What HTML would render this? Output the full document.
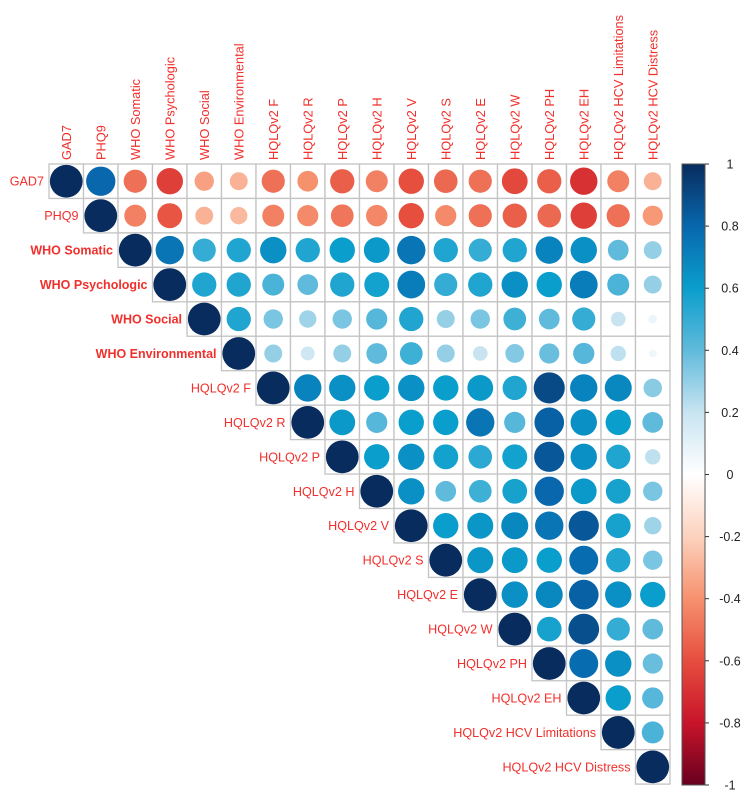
<!DOCTYPE html>
<html><head><meta charset="utf-8"><style>
body{margin:0;background:#fff;}
svg{display:block;font-family:"Liberation Sans",sans-serif;}
</style></head><body>
<svg id="chart" width="754" height="799" viewBox="0 0 754 799"></svg>
<script>
const labels = ["GAD7","PHQ9","WHO Somatic","WHO Psychologic","WHO Social","WHO Environmental","HQLQv2 F","HQLQv2 R","HQLQv2 P","HQLQv2 H","HQLQv2 V","HQLQv2 S","HQLQv2 E","HQLQv2 W","HQLQv2 PH","HQLQv2 EH","HQLQv2 HCV Limitations","HQLQv2 HCV Distress"];
// upper-triangle rows: values from diagonal to the right
const rowGAD7 = [1,0.8,-0.5,-0.65,-0.35,-0.3,-0.5,-0.4,-0.55,-0.45,-0.6,-0.52,-0.5,-0.62,-0.55,-0.7,-0.45,-0.3];
const rowPHQ9 = [1,-0.45,-0.58,-0.3,-0.28,-0.45,-0.42,-0.48,-0.43,-0.6,-0.42,-0.5,-0.55,-0.52,-0.65,-0.5,-0.38];
const rowWSom = [1,0.75,0.5,0.55,0.65,0.55,0.6,0.62,0.75,0.55,0.5,0.55,0.7,0.65,0.4,0.3];
const rowWPsy = [1,0.55,0.55,0.45,0.4,0.55,0.58,0.72,0.5,0.55,0.65,0.6,0.72,0.45,0.3];
const rowWSoc = [1,0.55,0.35,0.28,0.35,0.42,0.55,0.3,0.35,0.48,0.4,0.5,0.2,0.07];
const rowWEnv = [1,0.3,0.18,0.3,0.4,0.48,0.3,0.2,0.33,0.38,0.42,0.22,0.06];
const rowF = [1,0.7,0.65,0.6,0.65,0.6,0.62,0.55,0.9,0.7,0.68,0.32];
const rowR = [1,0.62,0.42,0.6,0.6,0.75,0.42,0.82,0.65,0.6,0.4];
const rowP = [1,0.6,0.65,0.58,0.52,0.58,0.85,0.65,0.55,0.22];
const rowH = [1,0.65,0.4,0.48,0.57,0.8,0.62,0.57,0.35];
const rowV = [1,0.6,0.63,0.68,0.75,0.85,0.57,0.28];
const rowS = [1,0.63,0.62,0.6,0.78,0.55,0.35];
const rowE = [1,0.65,0.68,0.82,0.65,0.6];
const rowW = [1,0.57,0.88,0.5,0.4];
const rowPH = [1,0.78,0.65,0.38];
const rowEH = [1,0.6,0.42];
const rowLim = [1,0.45];
const rowDis = [1];
const rows = [rowGAD7,rowPHQ9,rowWSom,rowWPsy,rowWSoc,rowWEnv,rowF,rowR,rowP,rowH,rowV,rowS,rowE,rowW,rowPH,rowEH,rowLim,rowDis];
const colorTicks = ["1","0.8","0.6","0.4","0.2","0","-0.2","-0.4","-0.6","-0.8","-1"];

const NS="http://www.w3.org/2000/svg";
const svg=document.getElementById('chart');
const X0=49, Y0=164, CW=34.5, CH=34.45, N=labels.length;
const xs=i=>X0+i*CW, ys=i=>Y0+i*CH;
const stops=[[-1,[103,0,31]],[-0.8,[200,20,42]],[-0.6,[230,78,62]],[-0.4,[246,145,110]],[-0.2,[252,210,190]],[0,[255,255,255]],[0.2,[200,228,241]],[0.4,[96,186,219]],[0.6,[10,158,204]],[0.8,[8,103,173]],[1,[8,44,94]]];
function col(v){for(let i=0;i<stops.length-1;i++){const a=stops[i],b=stops[i+1];if(v<=b[0]){const t=(v-a[0])/(b[0]-a[0]);const c=a[1].map((x,k)=>Math.round(x+(b[1][k]-x)*t));return `rgb(${c})`;}}return 'rgb(8,44,94)';}
function el(t,a){const e=document.createElementNS(NS,t);for(const k in a)e.setAttribute(k,a[k]);svg.appendChild(e);return e;}

for(let r=0;r<N;r++){
  rows[r].forEach((v,k)=>{
    const c=r+k;
    const cell=el('rect',{x:xs(c),y:ys(r),width:CW,height:CH,fill:'#fff',stroke:'#c4c4c4','stroke-width':1.3});
    
    
    const rad=Math.sqrt(Math.abs(v))*CW*0.475;
    const circ=el('circle',{cx:xs(c)+CW/2,cy:ys(r)+CH/2,r:rad,fill:col(v)});
    
    
  });
  const bold=labels[r].startsWith('WHO');
  const rl=el('text',{x:xs(r)-5,y:ys(r)+CH/2+4.5,'text-anchor':'end',fill:'#f0302c','font-size':bold?12.5:12.6,'font-weight':bold?'bold':'normal'});
  rl.textContent=labels[r];
  
  
  const cx=xs(r)+CW/2+4.5;
  const cl=el('text',{x:0,y:0,transform:`translate(${cx},160) rotate(-90)`,fill:'#f0302c','font-size':12.8});
  cl.textContent=labels[r];
  
  
}
// color bar
const defs=el('defs',{});
const g=document.createElementNS(NS,'linearGradient');g.setAttribute('id','cb');g.setAttribute('x1',0);g.setAttribute('y1',0);g.setAttribute('x2',0);g.setAttribute('y2',1);
stops.slice().reverse().forEach(s=>{const st=document.createElementNS(NS,'stop');st.setAttribute('offset',((1-s[0])/2*100)+'%');st.setAttribute('stop-color',`rgb(${s[1]})`);g.appendChild(st);});
defs.appendChild(g);
const CBT=164,CBB=785;
const bar=el('rect',{x:682,y:CBT,width:23,height:CBB-CBT,fill:'url(#cb)',stroke:'#555','stroke-width':1});


colorTicks.forEach((t,i)=>{
  const y=CBT+i*(CBB-CBT)/(colorTicks.length-1);
  el('line',{x1:705,x2:709,y1:y,y2:y,stroke:'#333','stroke-width':1});
  const tl=el('text',{x:730,y:y+4.5,'text-anchor':'middle',fill:'#222','font-size':12.5});
  tl.textContent=t;
  
  
});
</script>
</body></html>
